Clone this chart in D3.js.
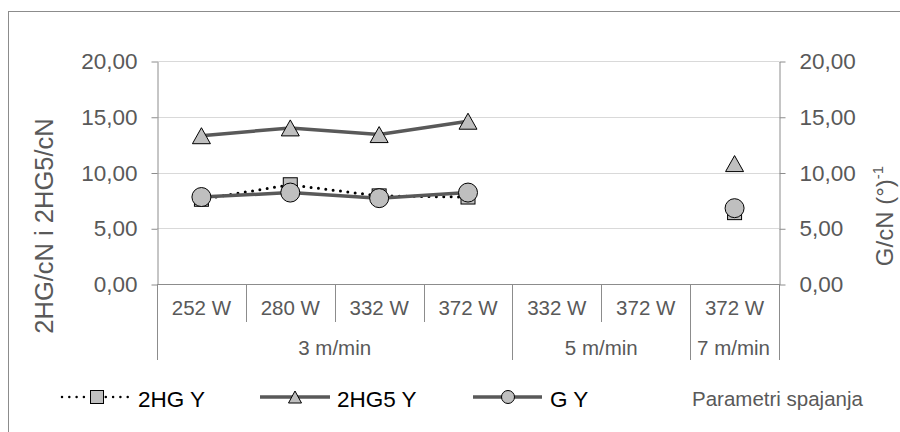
<!DOCTYPE html>
<html>
<head>
<meta charset="utf-8">
<script src="https://cdn.jsdelivr.net/npm/d3@7"></script>
<style>
  html, body { margin: 0; padding: 0; background: #fff; }
  svg { display: block; font-family: "Liberation Sans", Arial, sans-serif; }
</style>
</head>
<body>
<svg id="chart" width="900" height="432"></svg>
<script>
// ---- data ----
const categories = ["252 W", "280 W", "332 W", "372 W", "332 W", "372 W", "372 W"];
const groups = [
  { label: "3 m/min", start: 0, end: 4 },
  { label: "5 m/min", start: 4, end: 6 },
  { label: "7 m/min", start: 6, end: 7 }
];
const series2HG  = [7.6, 8.9, 7.9, 7.8, null, null, 6.4];
const series2HG5 = [13.3, 14.0, 13.4, 14.6, null, null, 10.8];
const seriesG    = [7.8, 8.2, 7.7, 8.2, null, null, 6.8];
const yTicks = [0, 5, 10, 15, 20];
const seriesNames = ["2HG Y", "2HG5 Y", "G Y"];
const leftTitle = "2HG/cN i 2HG5/cN";
const rightTitle = "G/cN (°)";
const rightTitleSup = "-1";
const xAxisTitle = "Parametri spajanja";

// ---- layout ----
const svg = d3.select("#chart");
const L = 157, R = 779, T = 61, B = 284;
const grey = "#595959", axisGrey = "#8c8c8c";

svg.append("rect").attr("x", 8.5).attr("y", 11.5).attr("width", 900).attr("height", 440)
  .attr("fill", "#fff").attr("stroke", "#8c8c8c").attr("stroke-width", 1);

const x = d3.scaleBand().domain(d3.range(categories.length)).range([L, R]).padding(0);
const y = d3.scaleLinear().domain([0, 20]).range([B, T]);
const cx = i => x(i) + x.bandwidth() / 2;
const fmt = d => d3.format(".2f")(d).replace(".", ",");

// gridlines
svg.append("g").selectAll("line").data(yTicks.filter(d => d > 0)).join("line")
  .attr("x1", L).attr("x2", R).attr("y1", d => Math.round(y(d)) + 0.5).attr("y2", d => Math.round(y(d)) + 0.5)
  .attr("stroke", "#d9d9d9").attr("stroke-width", 1);

// left axis
const gl = svg.append("g").attr("transform", `translate(${L + 0.5},0.5)`)
  .call(d3.axisLeft(y).tickValues(yTicks).tickFormat(fmt).tickSize(6).tickSizeOuter(0).tickPadding(14));
// right axis
const gr = svg.append("g").attr("transform", `translate(${R + 0.5},0.5)`)
  .call(d3.axisRight(y).tickValues(yTicks).tickFormat(fmt).tickSize(6).tickSizeOuter(0).tickPadding(14));
[gl, gr].forEach(g => {
  g.select(".domain").attr("stroke", axisGrey);
  g.selectAll(".tick line").attr("stroke", axisGrey);
  g.selectAll(".tick text").attr("fill", grey).attr("font-size", 22.5)
    .attr("font-family", "Liberation Sans, Arial, sans-serif");
});

// bottom axis line
svg.append("line").attr("x1", L).attr("x2", R).attr("y1", B + 0.5).attr("y2", B + 0.5)
  .attr("stroke", axisGrey);

// category dividers
const boundaries = d3.range(categories.length + 1);
const groupEdges = new Set(groups.flatMap(g => [g.start, g.end]));
svg.append("g").selectAll("line").data(boundaries).join("line")
  .attr("x1", i => Math.round(i < categories.length ? x(i) : R) + 0.5)
  .attr("x2", i => Math.round(i < categories.length ? x(i) : R) + 0.5)
  .attr("y1", B).attr("y2", i => groupEdges.has(i) ? 360 : 322)
  .attr("stroke", axisGrey);

// category labels
svg.append("g").selectAll("text").data(categories).join("text")
  .attr("x", (d, i) => cx(i)).attr("y", 308).attr("dy", "0.35em")
  .attr("text-anchor", "middle").attr("fill", grey).attr("font-size", 20.5)
  .text(d => d);

// group labels
svg.append("g").selectAll("text").data(groups).join("text")
  .attr("x", g => (x(g.start) + (g.end < categories.length ? x(g.end) : R)) / 2 + (g.label === "7 m/min" ? -1 : 0))
  .attr("y", 348).attr("dy", "0.35em")
  .attr("text-anchor", "middle").attr("fill", grey).attr("font-size", 20.5)
  .text(g => g.label);

// axis titles
svg.append("text").attr("transform", `translate(53,226) rotate(-90)`)
  .attr("text-anchor", "middle").attr("fill", grey).attr("font-size", 25.5)
  .text(leftTitle);
const rt = svg.append("text").attr("transform", `translate(893,216) rotate(-90)`)
  .attr("text-anchor", "middle").attr("fill", grey).attr("font-size", 24);
rt.append("tspan").text(rightTitle);
rt.append("tspan").attr("font-size", 15).attr("dy", -10).text(rightTitleSup);

// ---- series ----
const lineGen = d3.line().defined(d => d != null).x((d, i) => cx(i)).y(d => y(d));
const lineGenIdx = d3.line().defined(d => d.v != null).x(d => cx(d.i)).y(d => y(d.v));
const pts = arr => arr.map((v, i) => ({ v, i }));

const triPath = (w, h) => `M0,${-h / 2}L${w / 2},${h / 2}L${-w / 2},${h / 2}Z`;

// 2HG Y dotted + squares
svg.append("path").datum(pts(series2HG)).attr("d", lineGenIdx)
  .attr("fill", "none").attr("stroke", "#000").attr("stroke-width", 3)
  .attr("stroke-linecap", "round").attr("stroke-dasharray", "0,7.4");
svg.append("g").selectAll("rect").data(pts(series2HG).filter(d => d.v != null)).join("rect")
  .attr("x", d => cx(d.i) - 7).attr("y", d => y(d.v) - 7).attr("width", 14).attr("height", 14)
  .attr("fill", "#bfbfbf").attr("stroke", "#000").attr("stroke-width", 1);

// 2HG5 Y solid + triangles
svg.append("path").datum(pts(series2HG5)).attr("d", lineGenIdx)
  .attr("fill", "none").attr("stroke", grey).attr("stroke-width", 3.5);
svg.append("g").selectAll("path").data(pts(series2HG5).filter(d => d.v != null)).join("path")
  .attr("transform", d => `translate(${cx(d.i)},${y(d.v)})`).attr("d", triPath(18, 16))
  .attr("fill", "#bfbfbf").attr("stroke", "#000").attr("stroke-width", 1);

// G Y solid + circles
svg.append("path").datum(pts(seriesG)).attr("d", lineGenIdx)
  .attr("fill", "none").attr("stroke", grey).attr("stroke-width", 3.5);
svg.append("g").selectAll("circle").data(pts(seriesG).filter(d => d.v != null)).join("circle")
  .attr("cx", d => cx(d.i)).attr("cy", d => y(d.v)).attr("r", 9.5)
  .attr("fill", "#bfbfbf").attr("stroke", "#000").attr("stroke-width", 1);

// ---- legend ----
const ly = 397;
const leg = svg.append("g");
const legendItems = [
  { name: seriesNames[0], x0: 62, x1: 128, mx: 97, tx: 138, type: "square" },
  { name: seriesNames[1], x0: 260, x1: 330, mx: 295, tx: 337, type: "triangle" },
  { name: seriesNames[2], x0: 473, x1: 542, mx: 508, tx: 550, type: "circle" }
];
legendItems.forEach(it => {
  const ln = leg.append("line").attr("x1", it.x0).attr("x2", it.x1).attr("y1", ly).attr("y2", ly);
  if (it.type === "square") {
    ln.attr("stroke", "#000").attr("stroke-width", 2.5).attr("stroke-linecap", "round").attr("stroke-dasharray", "0,7.3");
    leg.append("rect").attr("x", it.mx - 6.5).attr("y", ly - 6.5).attr("width", 13).attr("height", 13)
      .attr("fill", "#bfbfbf").attr("stroke", "#000");
  } else if (it.type === "triangle") {
    ln.attr("stroke", grey).attr("stroke-width", 3.5);
    leg.append("path").attr("transform", `translate(${it.mx},${ly})`).attr("d", triPath(13, 12))
      .attr("fill", "#bfbfbf").attr("stroke", "#000");
  } else {
    ln.attr("stroke", grey).attr("stroke-width", 3.5);
    leg.append("circle").attr("cx", it.mx).attr("cy", ly).attr("r", 6.5)
      .attr("fill", "#bfbfbf").attr("stroke", "#000");
  }
  leg.append("text").attr("x", it.tx).attr("y", 399).attr("dy", "0.35em")
    .attr("fill", "#000").attr("font-size", 22.5).text(it.name);
});
svg.append("text").attr("x", 692).attr("y", 399).attr("dy", "0.35em")
  .attr("fill", grey).attr("font-size", 20.5).text(xAxisTitle);
</script>
</body>
</html>
